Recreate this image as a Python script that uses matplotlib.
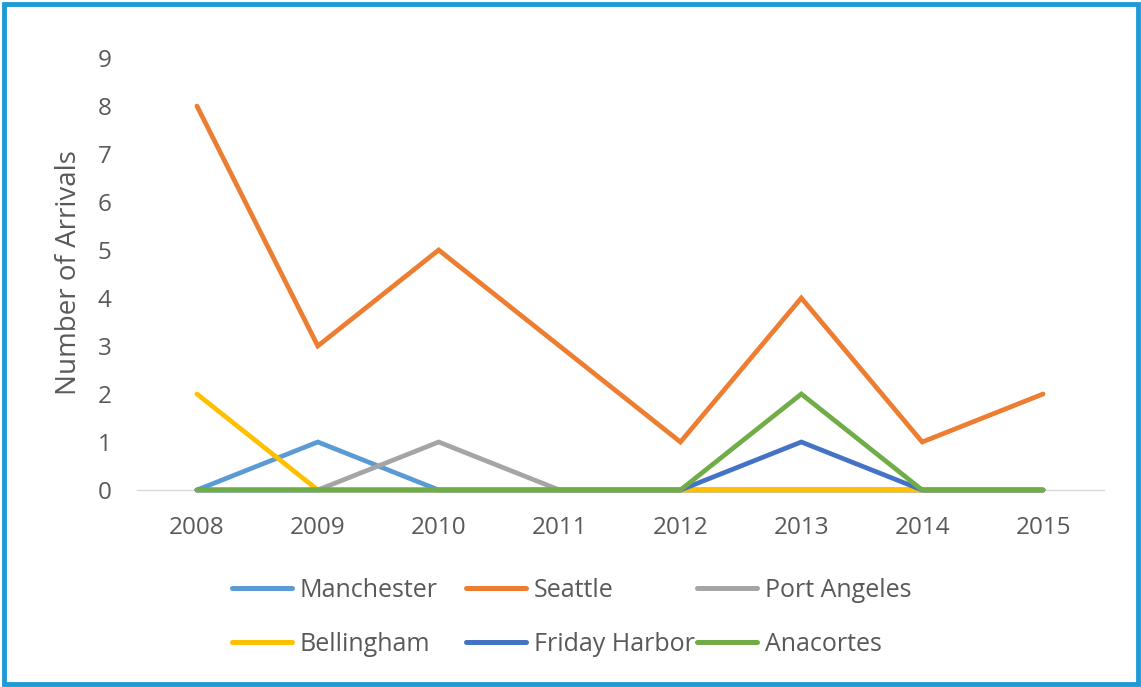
import matplotlib
matplotlib.use("Agg")
import matplotlib.pyplot as plt
from matplotlib.patches import Rectangle

# Annual ship arrivals by port
years = ["2008", "2009", "2010", "2011", "2012", "2013", "2014", "2015"]
manchester = [0, 1, 0, 0, 0, 0, 0, 0]
seattle = [8, 3, 5, 3, 1, 4, 1, 2]
port_angeles = [0, 0, 1, 0, 0, 0, 0, 0]
bellingham = [2, 0, 0, 0, 0, 0, 0, 0]
friday_harbor = [0, 0, 0, 0, 0, 1, 0, 0]
anacortes = [0, 0, 0, 0, 0, 2, 0, 0]

series = [
    ("Manchester", manchester, "#5B9BD5"),
    ("Seattle", seattle, "#ED7D31"),
    ("Port Angeles", port_angeles, "#A5A5A5"),
    ("Bellingham", bellingham, "#FFC000"),
    ("Friday Harbor", friday_harbor, "#4472C4"),
    ("Anacortes", anacortes, "#70AD47"),
]

TEXT = "#595959"
FONT = "Open Sans"
plt.rcParams["font.family"] = [FONT, "DejaVu Sans"]

W, H = 1141, 687
fig = plt.figure(figsize=(W / 100, H / 100), dpi=100)
fig.patch.set_facecolor("white")

ax = fig.add_axes([136.5 / W, 1 - 490 / H, 967 / W, 432 / H])
x = list(range(len(years)))
handles = []
for name, vals, color in series:
    (ln,) = ax.plot(x, vals, color=color, lw=3.4, solid_capstyle="round",
                    solid_joinstyle="miter", label=name, zorder=3,
                    clip_on=False)
    handles.append(ln)

ax.set_xlim(-0.5, len(years) - 0.5)
ax.set_ylim(0, 9)
ax.set_yticks(range(0, 10))
ax.set_xticks(x)
ax.set_xticklabels(years)
for s in ["top", "right", "left"]:
    ax.spines[s].set_visible(False)
ax.spines["bottom"].set_color("#D9D9D9")
ax.spines["bottom"].set_linewidth(1.0)
ax.spines["bottom"].set_zorder(1)
ax.tick_params(axis="both", length=0, labelsize=17.5, labelcolor=TEXT)
ax.tick_params(axis="y", pad=18)
ax.tick_params(axis="x", pad=19)

fig.text(69 / W, 1 - 273 / H, "Number of Arrivals", rotation=90,
         ha="center", va="center", fontsize=20, color=TEXT)

# Legend laid out as three equal-width columns
col_x = [232, 466, 697]
for c in range(3):
    hs = [handles[c], handles[c + 3]]
    leg = fig.legend(hs, [h.get_label() for h in hs], loc="upper left",
                     bbox_to_anchor=(col_x[c] / W, 1 - 578 / H),
                     frameon=False, fontsize=18, handlelength=2.4,
                     handletextpad=0.32, labelspacing=1.15,
                     borderaxespad=0, borderpad=0)
    for t in leg.get_texts():
        t.set_color(TEXT)
    for lh in leg.legend_handles:
        lh.set_linewidth(3.6)

# Blue frame around the chart
fig.patches.append(Rectangle((3.5 / W, 3.5 / H), (W - 7) / W, (H - 7) / H,
                             transform=fig.transFigure, fill=False,
                             edgecolor="#1E9AD6", linewidth=3.5))

fig.savefig("out.png", dpi=100)
